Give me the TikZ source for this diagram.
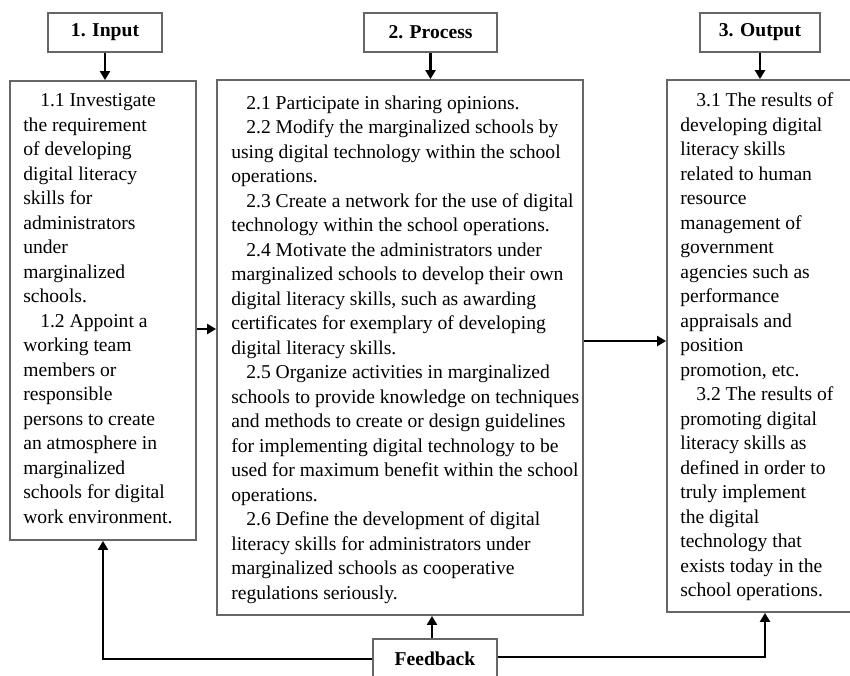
\documentclass[tikz,border=0pt]{standalone}
\usepackage{fontspec}
\setmainfont{Liberation Serif}
\usetikzlibrary{arrows.meta}
\begin{document}
\begin{tikzpicture}[x=1pt,y=-1pt,
  frame/.style={draw=black!60, line width=1.8pt, fill=white, inner sep=0pt},
  title/.style={frame, font={\bfseries\fontsize{19.6pt}{24.5pt}\selectfont}},
  txt/.style={align=left, inner sep=0pt, anchor=west, font={\fontsize{19.6pt}{24.5pt}\selectfont}},
  arr/.style={draw=black, line width=2.2pt, -{Triangle[length=9pt,width=10pt]}},
  fbline/.style={draw=black, line width=2.6pt, -{Triangle[length=9pt,width=10pt]}}]
\useasboundingbox (0,0) rectangle (850,675);
% title boxes
\node[title, minimum width=114, minimum height=39] (t1) at (105,32.5) {1. Input};
\node[title, minimum width=133, minimum height=39] (t2) at (430.5,32.5) {2. Process};
\node[title, minimum width=120, minimum height=39] (t3) at (760,32.5) {3. Output};
% main boxes
\node[frame, minimum width=186, minimum height=459] (in) at (103,310.5) {};
\node[frame, minimum width=366, minimum height=535] (proc) at (400,347.5) {};
\node[frame, minimum width=196, minimum height=532] (out) at (765,346) {};
\node[title, minimum width=124, minimum height=40] (fb) at (435,659) {Feedback};
% texts
\node[txt] (intext) at ([xshift=14pt,yshift=2pt]in.west) {%
\hspace*{17pt}1.1 Investigate\\
the requirement\\
of developing\\
digital literacy\\
skills for\\
administrators\\
under\\
marginalized\\
schools.\\
\hspace*{17pt}1.2 Appoint a\\
working team\\
members or\\
responsible\\
persons to create\\
an atmosphere in\\
marginalized\\
schools for digital\\
work environment.};
\node[txt] (proctext) at ([xshift=15pt,yshift=-2pt]proc.west) {%
\hspace*{15pt}2.1 Participate in sharing opinions.\\
\hspace*{15pt}2.2 Modify the marginalized schools by\\
using digital technology within the school\\
operations.\\
\hspace*{15pt}2.3 Create a network for the use of digital\\
technology within the school operations.\\
\hspace*{15pt}2.4 Motivate the administrators under\\
marginalized schools to develop their own\\
digital literacy skills, such as awarding\\
certificates for exemplary of developing\\
digital literacy skills.\\
\hspace*{15pt}2.5 Organize activities in marginalized\\
schools to provide knowledge on techniques\\
and methods to create or design guidelines\\
for implementing digital technology to be\\
used for maximum benefit within the school\\
operations.\\
\hspace*{15pt}2.6 Define the development of digital\\
literacy skills for administrators under\\
marginalized schools as cooperative\\
regulations seriously.};
\node[txt] (outtext) at ([xshift=14pt,yshift=-1pt]out.west) {%
\hspace*{16pt}3.1 The results of\\
developing digital\\
literacy skills\\
related to human\\
resource\\
management of\\
government\\
agencies such as\\
performance\\
appraisals and\\
position\\
promotion, etc.\\
\hspace*{16pt}3.2 The results of\\
promoting digital\\
literacy skills as\\
defined in order to\\
truly implement\\
the digital\\
technology that\\
exists today in the\\
school operations.};
% connectors
\draw[arr] (t1.south) -- (t1.south |- in.north);
\draw[arr] (t2.south) -- (t2.south |- proc.north);
\draw[arr] (t3.south) -- (t3.south |- out.north);
\draw[arr] (in.east |- 0,329) -- (proc.west |- 0,329);
\draw[arr] (proc.east |- 0,341) -- (out.west |- 0,341);
\draw[fbline] (fb.west) -| (in.south);
\draw[fbline] (fb.east |- 0,657) -| (out.south);
\draw[arr] (fb.north -| 432,0) -- (proc.south -| 432,0);
\end{tikzpicture}
\end{document}
